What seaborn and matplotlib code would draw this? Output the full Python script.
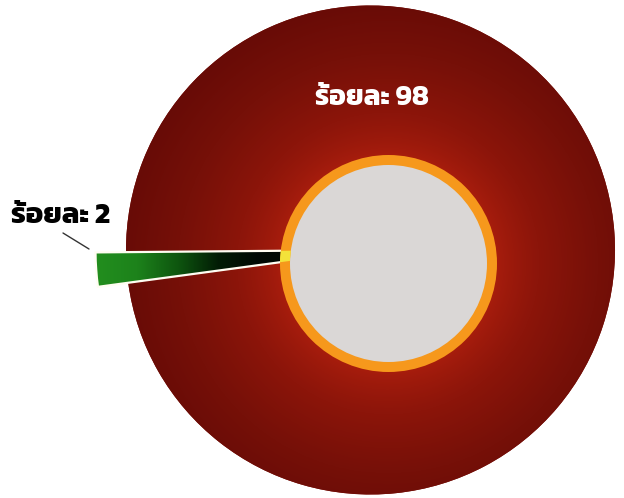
import matplotlib
matplotlib.use("Agg")
import matplotlib.pyplot as plt
from matplotlib.patches import Circle, Wedge
from matplotlib.colors import LinearSegmentedColormap
import numpy as np
import seaborn as sns

# Share of the total (per cent)
labels = ["ร้อยละ 2", "ร้อยละ 98"]
values = [2, 98]

sns.set_theme(style="white")
plt.rcParams["font.family"] = ["Kanit", "DejaVu Sans"]

W, H = 624, 498
fig = plt.figure(figsize=(W / 100, H / 100), dpi=100)
ax = fig.add_axes([0, 0, 1, 1])

center = (370.5, 248.0)
radius = 244.5

wedges, _ = ax.pie(values, colors=["#1f8a1f", "#7e1109"], startangle=180.5,
                   counterclock=True, radius=radius, center=center,
                   wedgeprops=dict(linewidth=0, edgecolor="none"))
small, big = wedges
small.set_radius(275)
small.set_zorder(2)
big.set_zorder(1)

ax.set_xlim(0, W)
ax.set_ylim(0, H)
ax.set_aspect("equal")
ax.axis("off")

# radial shading of the large slice, brightest around the core
ring_c = (388.5, 234.5)
xs = np.linspace(0, W, 400)
ys = np.linspace(0, H, 320)
X, Y = np.meshgrid(xs, ys)
d = np.hypot(X - ring_c[0], Y - ring_c[1])
t = np.clip((d - 108) / 170, 0, 1) ** 0.8
red_cmap = LinearSegmentedColormap.from_list(
    "reds", ["#a81d0d", "#8c150a", "#761008", "#650a06"])
im = ax.imshow(t, cmap=red_cmap, extent=(0, W, 0, H), origin="lower",
               zorder=1.5, interpolation="bilinear", vmin=0, vmax=1)
im.set_clip_path(big)

# linear shading of the small slice, green outside fading to black inside
g = np.tile(np.linspace(0, 1, 300), (10, 1))
green_cmap = LinearSegmentedColormap.from_list(
    "greens", ["#228e1e", "#1d821b", "#0e560f", "#021c05", "#000803", "#000803"])
img = ax.imshow(g, cmap=green_cmap, extent=(96, 300, 200, 260), origin="lower",
                zorder=2.5, aspect="auto", interpolation="bilinear")
img.set_clip_path(small)

outline = Wedge(center, 275, small.theta1, small.theta2, facecolor="none",
                edgecolor="#fffdf2", linewidth=1.6, zorder=2.6)
ax.add_patch(outline)

# core: orange ring around a pale grey disc
ring_r = 108.5
ring_w = 10
ax.add_patch(Circle(ring_c, ring_r, facecolor="#f6981c", edgecolor="none", zorder=3))
ax.add_patch(Circle(ring_c, ring_r - ring_w, facecolor="#dad7d6", edgecolor="none", zorder=3.2))

# the small slice shows through the ring in yellow
annulus = Wedge(ring_c, ring_r, 0, 360, width=ring_w, facecolor="none",
                edgecolor="none", zorder=3.4)
ax.add_patch(annulus)
tip = Wedge(center, 275, small.theta1, small.theta2, facecolor="#f3e23a",
            edgecolor="none", zorder=3.5)
ax.add_patch(tip)
tip.set_clip_path(annulus)

# labels
ax.text(372, 393, labels[1], color="white", fontsize=20, fontweight="bold",
        ha="center", va="baseline", zorder=5)
ax.text(11, 275, labels[0], color="black", fontsize=21, fontweight="bold",
        ha="left", va="baseline", zorder=5)
ax.plot([63, 89], [265, 249], color="#333333", linewidth=1.0, zorder=5)

fig.savefig("out.png", dpi=100, facecolor="white")
